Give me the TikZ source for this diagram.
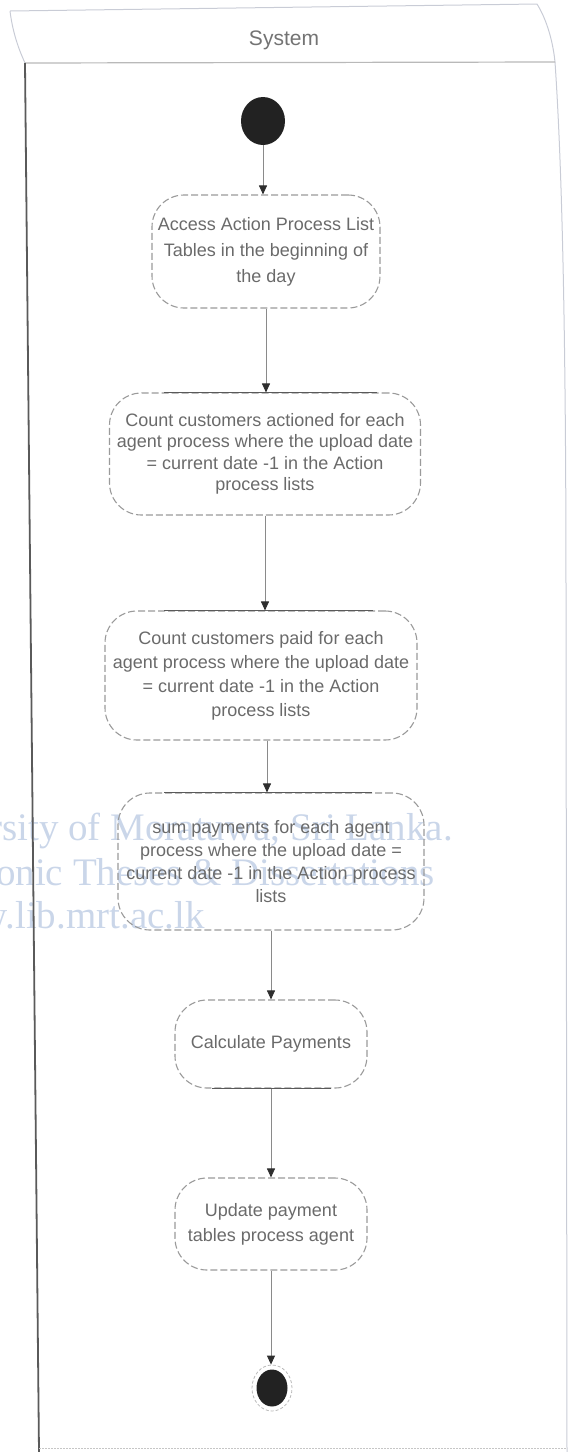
\documentclass[tikz,border=0pt]{standalone}
\usepackage{fontspec}
\setmainfont{Liberation Sans}
\newfontfamily\wmfont{Liberation Serif}
\usetikzlibrary{arrows.meta,shapes.geometric}

\definecolor{edge}{HTML}{8A8A8A}
\definecolor{tip}{HTML}{2E2E2E}
\definecolor{boxline}{HTML}{9A9A9A}
\definecolor{boxtext}{HTML}{6A6A6A}
\definecolor{lane}{HTML}{5A5A5A}
\definecolor{framecol}{HTML}{C9CCD6}
\definecolor{markcol}{RGB}{202,214,233}
\definecolor{solidfill}{HTML}{222222}

\begin{document}
\begin{tikzpicture}[x=1pt,y=-1pt,
  action/.style={draw=boxline, line width=1.1pt, dash pattern=on 7pt off 3pt,
    rounded corners=32pt, text=boxtext, align=center, inner sep=0pt},
  flow/.style={draw=edge, line width=0.9pt, -{Triangle[length=9pt,width=8pt,color=tip]}},
  topedge/.style={draw=lane, line width=1.8pt},
  watermark/.style={font=\wmfont\fontsize{39}{40}\selectfont, text=markcol, inner sep=0pt, anchor=base east},
]
\useasboundingbox (0,0) rectangle (568,1452);

% watermark stamped across the page
\begin{scope}
  \clip (0,0) rectangle (568,1452);
  \node[watermark] (wm1) at (453,840) {University of Moratuwa, Sri Lanka.};
  \node[watermark] (wm2) at (435,885) {Electronic Theses \& Dissertations};
  \node[watermark] (wm3) at (205,928) {www.lib.mrt.ac.lk};
\end{scope}

% swimlane frame
\draw[framecol, line width=1pt] (10,11) -- (537,4);
\draw[framecol, line width=1pt] (10,11) .. controls (13,35) and (20,52) .. (25,63);
\draw[framecol, line width=1pt] (537,4) .. controls (547,20) and (553,42) .. (555,62)
  .. controls (561,150) and (566,300) .. (566,600) -- (567,1452);
\draw[gray!55, line width=1.2pt] (25,63) -- (555,62);
\draw[lane, line width=1.8pt] (25,63) -- (39,1452);
\draw[gray!45, line width=1pt, dash pattern=on 2pt off 1pt] (39,1448) -- (567,1448);
\node[font=\fontsize{21}{24}\selectfont, text=black!55] (title) at (284,40) {System};

% start and end states
\node[ellipse, fill=solidfill, minimum width=44pt, minimum height=48pt, inner sep=0pt] (start) at (263,121) {};
\node[ellipse, draw=gray!55, dash pattern=on 3pt off 2pt, line width=0.8pt,
      minimum width=40pt, minimum height=46pt, inner sep=0pt] (endring) at (272,1388) {};
\node[ellipse, fill=solidfill, minimum width=31pt, minimum height=37pt, inner sep=0pt] (end) at (272,1388) {};

% actions
\node[action, minimum width=228pt, minimum height=113pt, font=\fontsize{18}{26}\selectfont] (n1) at (266,251.5)
  {Access Action Process List\\Tables in the beginning of\\the day};
\node[action, minimum width=311pt, minimum height=122pt, font=\fontsize{18}{21.5}\selectfont] (n2) at (265,454)
  {Count customers actioned for each\\agent process where the upload date\\= current date -1 in the Action\\process lists};
\node[action, minimum width=312pt, minimum height=129pt, font=\fontsize{18}{24}\selectfont] (n3) at (261,675.5)
  {Count customers paid for each\\agent process where the upload date\\= current date -1 in the Action\\process lists};
\node[action, minimum width=306pt, minimum height=137pt, font=\fontsize{18}{23}\selectfont] (n4) at (271,861.5)
  {sum payments for each agent\\process where the upload date =\\current date -1 in the Action process\\lists};
\node[action, minimum width=192pt, minimum height=88pt, font=\fontsize{18}{23}\selectfont] (n5) at (271,1044)
  {Calculate Payments};
\node[action, minimum width=192pt, minimum height=92pt, font=\fontsize{18}{25}\selectfont] (n6) at (271,1224)
  {Update payment\\tables process agent};

% heavier edge strokes on some boxes
\draw[topedge] ([xshift=55pt]n2.north west) -- ([xshift=-44pt]n2.north east);
\draw[topedge] ([xshift=60pt]n3.north west) -- ([xshift=-45pt]n3.north east);
\draw[topedge] ([xshift=47pt]n4.north west) -- ([xshift=-53pt]n4.north east);
\draw[topedge] ([xshift=38pt]n5.south west) -- ([xshift=-37pt]n5.south east);

% control flow
\draw[flow] (start.south) -- (start.south |- n1.north);
\draw[flow] (n1.south) -- (n1.south |- n2.north);
\draw[flow] (n2.south) -- (n2.south |- n3.north);
\draw[flow] ([xshift=6pt]n3.south) -- ([xshift=6pt]n3.south |- n4.north);
\draw[flow] (n4.south) -- (n4.south |- n5.north);
\draw[flow] (n5.south) -- (n5.south |- n6.north);
\draw[flow] (n6.south) -- (n6.south |- endring.north);
\end{tikzpicture}
\end{document}
